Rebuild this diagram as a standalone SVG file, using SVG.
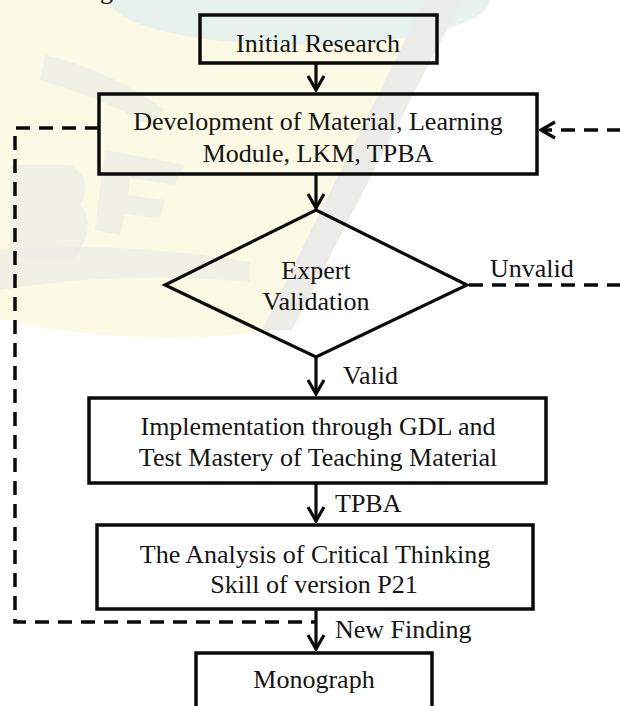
<svg xmlns="http://www.w3.org/2000/svg" width="620" height="706" viewBox="0 0 620 706">
  <style>
    .box { fill: none; stroke: #0a0a0a; stroke-width: 3.5; }
    .dia { fill: none; stroke: #0a0a0a; stroke-width: 3.2; stroke-linejoin: miter; }
    .flow { fill: none; stroke: #0a0a0a; stroke-width: 3.2; }
    .dash { fill: none; stroke: #0a0a0a; stroke-width: 3.5; stroke-dasharray: 14 9; }
    .wm { fill: #ebebe5; opacity: 0.7; }
    text { font-family: "Liberation Serif", "Times New Roman", serif; font-size: 26px; fill: #141414; }
    .c { text-anchor: middle; }
  </style>
  <defs>
    <marker id="arr" viewBox="0 0 18 20" refX="16" refY="10" markerWidth="18" markerHeight="20" orient="auto" markerUnits="userSpaceOnUse">
      <path d="M2,2 L16,10 L2,18" fill="none" stroke="#0a0a0a" stroke-width="3.2"/>
    </marker>
  </defs>

  <g id="background">
    <rect x="0" y="0" width="620" height="706" fill="#ffffff"/>
    <path d="M0,0 H455 L275,330 Q130,350 0,318 Z" fill="#fcfae4"/>
    <ellipse cx="300" cy="0" rx="190" ry="45" fill="#e8f2ec"/>
    <path d="M425,0 H462 L292,330 H262 Z" fill="#ececE8"/>
    <path class="wm" d="M0,250 Q120,240 250,262 L250,282 Q120,270 0,290 Z"/>
    <path class="wm" d="M10,165 H70 Q95,180 80,205 Q98,225 75,258 H10 Z"/>
    <path class="wm" d="M105,150 L185,165 L175,185 L130,178 L128,195 L165,200 L160,218 L125,214 L120,235 L95,230 Z"/>
    <path class="wm" d="M45,55 Q110,70 165,110 L150,125 Q95,95 40,80 Z"/>
  </g>

  <text x="100" y="-1">g</text>

  <g id="connectors">
    <line class="flow" x1="316" y1="63" x2="316" y2="90" marker-end="url(#arr)"/>
    <line class="flow" x1="316" y1="174" x2="316" y2="208" marker-end="url(#arr)"/>
    <line class="flow" x1="316" y1="357" x2="316" y2="394" marker-end="url(#arr)"/>
    <line class="flow" x1="316" y1="483" x2="316" y2="521" marker-end="url(#arr)"/>
    <line class="flow" x1="316" y1="609" x2="316" y2="649" marker-end="url(#arr)"/>
    <path class="dash" d="M99,128 H15 V622 H316"/>
    <path class="dash" d="M469,285 H640 V130 H541" marker-end="url(#arr)"/>
    <text x="343" y="384">Valid</text>
    <text x="335" y="512">TPBA</text>
    <text x="335" y="638">New Finding</text>
    <text x="490" y="277">Unvalid</text>
  </g>

  <g id="initial-research">
    <rect class="box" x="200" y="15" width="237" height="48"/>
    <text class="c" x="318" y="52">Initial Research</text>
  </g>

  <g id="development">
    <rect class="box" x="99" y="94" width="438" height="80"/>
    <text class="c" x="318" y="130">Development of Material, Learning</text>
    <text class="c" x="318" y="162">Module, LKM, TPBA</text>
  </g>

  <g id="expert-validation">
    <polygon class="dia" points="316,210 467,285 316,357 165,285"/>
    <text class="c" x="316" y="279">Expert</text>
    <text class="c" x="316" y="310">Validation</text>
  </g>

  <g id="implementation">
    <rect class="box" x="89" y="398" width="457" height="85"/>
    <text class="c" x="318" y="435">Implementation through GDL and</text>
    <text class="c" x="318" y="466">Test Mastery of Teaching Material</text>
  </g>

  <g id="analysis">
    <rect class="box" x="97" y="525" width="436" height="84"/>
    <text class="c" x="315" y="563">The Analysis of Critical Thinking</text>
    <text class="c" x="314" y="593">Skill of version P21</text>
  </g>

  <g id="monograph">
    <rect class="box" x="196" y="653" width="236" height="70"/>
    <text class="c" x="314" y="688">Monograph</text>
  </g>
</svg>
